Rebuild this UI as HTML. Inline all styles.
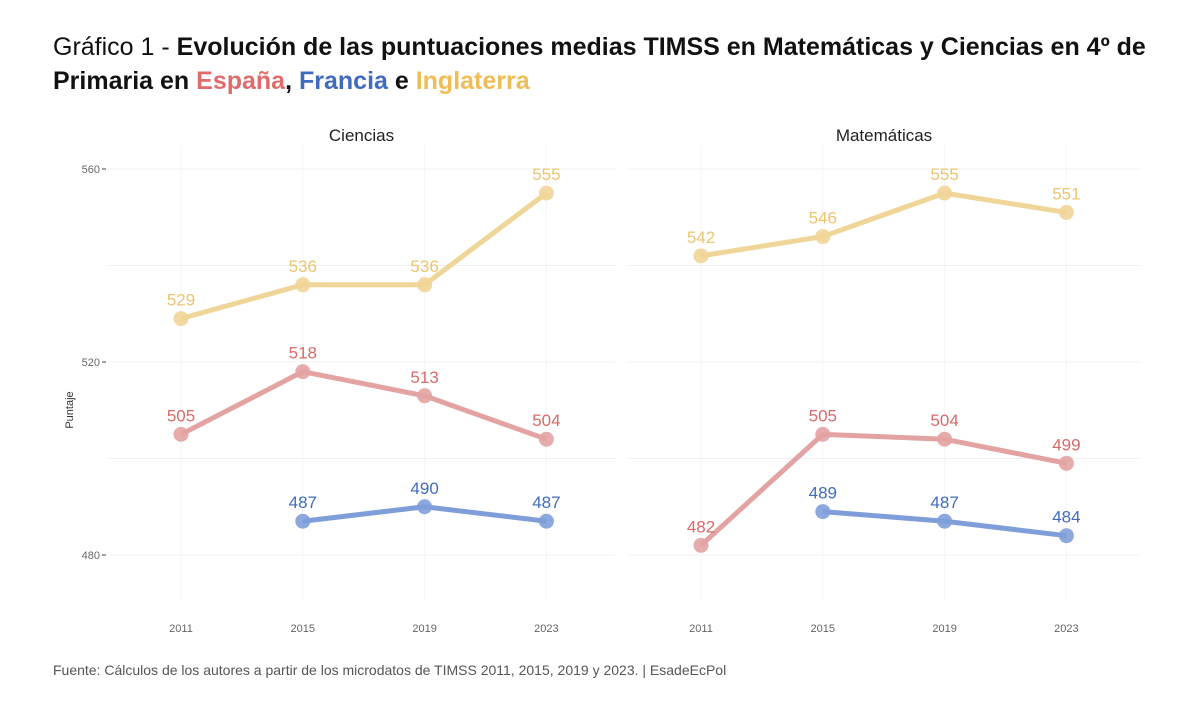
<!DOCTYPE html>
<html><head><meta charset="utf-8"><style>
body{margin:0;background:#fff;width:1200px;height:710px;overflow:hidden;font-family:"Liberation Sans",sans-serif}
#title{position:absolute;left:53px;top:30px;font-size:25px;line-height:34px;color:#111;width:1120px}
#src{position:absolute;left:53px;top:662px;font-size:14px;color:#555}
</style></head><body>
<div id="title">Gráfico 1 - <b>Evolución de las puntuaciones medias TIMSS en Matemáticas y Ciencias en 4º de Primaria en <span style="color:#e06b6b">España</span>, <span style="color:#3f6cc0">Francia</span> e <span style="color:#f0bc55">Inglaterra</span></b></div>
<svg id="chart" width="1200" height="710" style="position:absolute;left:0;top:0"></svg>
<div id="src">Fuente: Cálculos de los autores a partir de los microdatos de TIMSS 2011, 2015, 2019 y 2023. | EsadeEcPol</div>
<script>
const years=["2011","2015","2019","2023"];
const panels=["Ciencias","Matemáticas"];
const yTicks=[480,520,560];
const cienciasEng=[529,536,536,555];
const cienciasEsp=[505,518,513,504];
const cienciasFra=[null,487,490,487];
const matesEng=[542,546,555,551];
const matesEsp=[482,505,504,499];
const matesFra=[null,489,487,484];
const data=[[cienciasEng,cienciasEsp,cienciasFra],[matesEng,matesEsp,matesFra]];
const lineCol=["#efd597","#e3a3a3","#7f9ed9"];
const textCol=["#ecc46e","#d96a6a","#3f6cc0"];
const names=["inglaterra","espana","francia"];
const svg=document.getElementById('chart');
const NS="http://www.w3.org/2000/svg";
function y(v){return 169+(560-v)*193/40;}
const px0=[181,701];
function x(p,i){return px0[p]+i*121.8;}
function mk(t,a,par){const e=document.createElementNS(NS,t);for(const k in a)e.setAttribute(k,a[k]);(par||svg).appendChild(e);return e;}
for(let p=0;p<2;p++){
  const L=p==0?108:628,R=p==0?615:1140;
  const g=mk('g',{});
  
  
  for(let v=480;v<=560;v+=20){const l=mk('line',{x1:L,x2:R,y1:y(v),y2:y(v),stroke:'#f1f1f1','stroke-width':1},g);}
  years.forEach((yr,i)=>{mk('line',{x1:x(p,i),x2:x(p,i),y1:145,y2:600,stroke:'#f5f5f5'},g);
    const t=mk('text',{x:x(p,i),y:632,'text-anchor':'middle','font-size':11,fill:'#666'},g);t.textContent=yr;
    });
  const pt=mk('text',{x:(L+R)/2,y:141,'text-anchor':'middle','font-size':17,fill:'#222'},g);pt.textContent=panels[p];
  
  data[p].forEach((s,si)=>{
    let d='';s.forEach((v,i)=>{if(v==null)return;d+=(d?'L':'M')+x(p,i)+','+y(v);});
    const path=mk('path',{d:d,fill:'none',stroke:lineCol[si],'stroke-width':5,'stroke-linejoin':'round'},g);
    
    s.forEach((v,i)=>{if(v==null)return;
      const c=mk('circle',{cx:x(p,i),cy:y(v),r:7.5,fill:lineCol[si],opacity:0.9},g);
      
      const t=mk('text',{x:x(p,i),y:y(v)-13,'text-anchor':'middle','font-size':17,fill:textCol[si]},g);t.textContent=v;
      });
  });
}
yTicks.forEach(v=>{const t=mk('text',{x:100,y:y(v)+4,'text-anchor':'end','font-size':11,fill:'#666'});t.textContent=v;
  
  mk('line',{x1:102,x2:106,y1:y(v),y2:y(v),stroke:'#444'});});
const yt=mk('text',{x:73,y:410,'text-anchor':'middle','font-size':11,fill:'#333',transform:'rotate(-90 73 410)'});yt.textContent='Puntaje';

</script>
</body></html>
